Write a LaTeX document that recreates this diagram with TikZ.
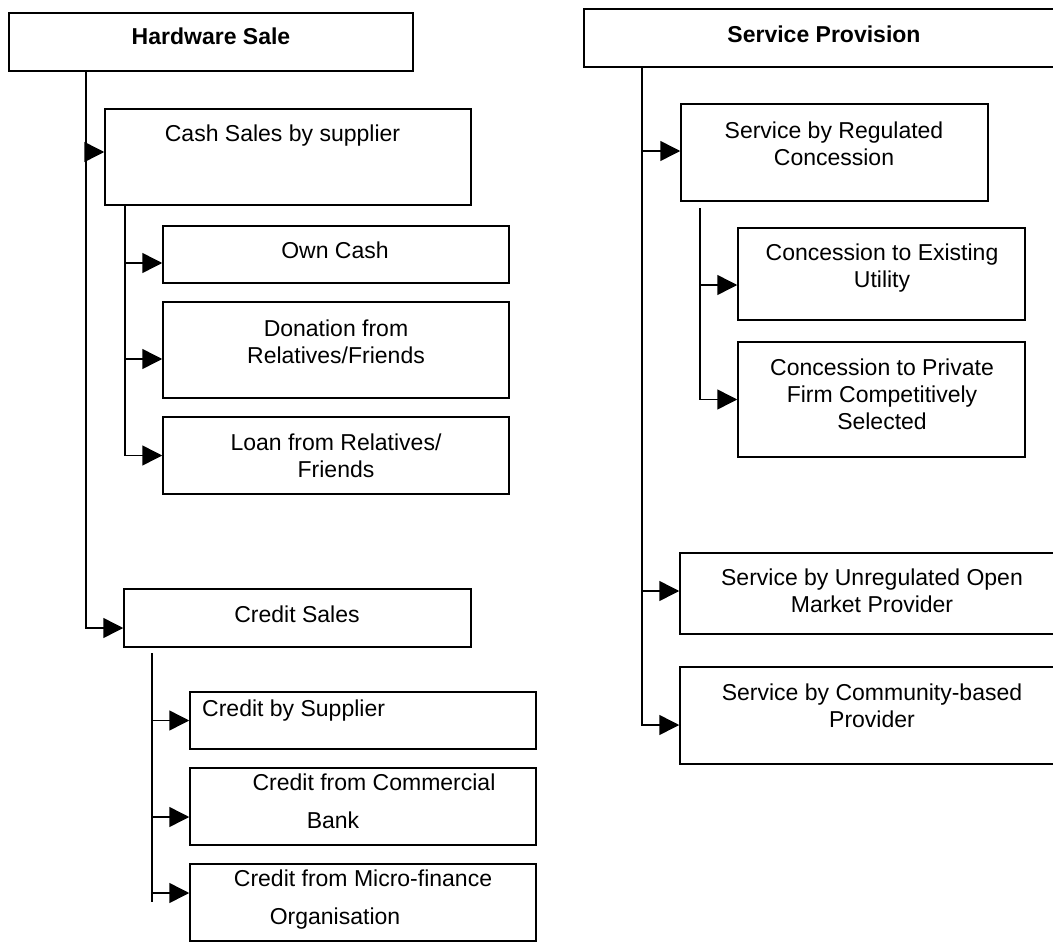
\documentclass[tikz,border=0pt]{standalone}
\usepackage{fontspec}
\setmainfont{Liberation Sans}
\usetikzlibrary{arrows.meta}
\begin{document}
\begin{tikzpicture}[x=1pt,y=-1pt,
  box/.style={draw,line width=1.5pt,inner sep=0pt,fill=none},
  txt/.style={inner sep=0pt,anchor=base,align=center,font=\fontsize{23}{27}\selectfont},
  conn/.style={line width=1.5pt},
  arr/.style={line width=1.5pt,-{Triangle[length=20pt,width=20pt]}}]
\useasboundingbox (0,0) rectangle (1053,942);
\clip (0,0) rectangle (1053,942);
% ---------- left tree boxes ----------
\node[box,minimum width=404pt,minimum height=58pt] (hw) at (211,42) {};
\node[box,minimum width=366pt,minimum height=96pt] (cash) at (288,157) {};
\node[box,minimum width=346pt,minimum height=57pt] (own) at (336,254.5) {};
\node[box,minimum width=346pt,minimum height=96pt] (don) at (336,350) {};
\node[box,minimum width=346pt,minimum height=77pt] (loan) at (336,455.5) {};
\node[box,minimum width=347pt,minimum height=58pt] (credit) at (297.5,618) {};
\node[box,minimum width=346pt,minimum height=57pt] (csup) at (363,720.5) {};
\node[box,minimum width=346pt,minimum height=77pt] (cbank) at (363,806.5) {};
\node[box,minimum width=346pt,minimum height=77pt] (cmicro) at (363,902.5) {};
% ---------- right tree boxes ----------
\node[box,minimum width=480pt,minimum height=58pt] (sp) at (824,38) {};
\node[box,minimum width=307pt,minimum height=97pt] (reg) at (834.5,152.5) {};
\node[box,minimum width=287pt,minimum height=92pt] (exist) at (881.5,274) {};
\node[box,minimum width=287pt,minimum height=115pt] (priv) at (881.5,399.5) {};
\node[box,minimum width=384pt,minimum height=81pt] (unreg) at (872,593.5) {};
\node[box,minimum width=384pt,minimum height=97pt] (comm) at (872,715.5) {};
% ---------- texts (base = baseline of last line) ----------
\node[txt,font=\fontsize{23}{27}\selectfont\bfseries] (hwT) at (211,45) {Hardware Sale};
\node[txt] (cashT) at (282.5,142) {Cash Sales by supplier};
\node[txt] (ownT) at (335,258) {Own Cash};
\node[txt] (donT) at (336,363) {Donation from\\Relatives/Friends};
\node[txt] (loanT) at (336,477) {Loan from Relatives/\\Friends};
\node[txt] (creditT) at (297,622) {Credit Sales};
\node[txt,anchor=base west] (csupT) at (202,716) {Credit by Supplier};
\node[txt] (cbankT1) at (374,790) {Credit from Commercial};
\node[txt] (cbankT2) at (333,828) {Bank};
\node[txt] (cmicroT1) at (363,886) {Credit from Micro-finance};
\node[txt] (cmicroT2) at (335,924) {Organisation};
\node[txt,font=\fontsize{23}{27}\selectfont\bfseries] (spT) at (824,43) {Service Provision};
\node[txt] (regT) at (834,165) {Service by Regulated\\Concession};
\node[txt] (existT) at (882,287) {Concession to Existing\\Utility};
\node[txt] (privT) at (882,429) {Concession to Private\\Firm Competitively\\Selected};
\node[txt] (unregT) at (872,612) {Service by Unregulated Open\\Market Provider};
\node[txt] (commT) at (872,727) {Service by Community-based\\Provider};
% ---------- trunk coordinates ----------
\coordinate (hwTop) at (86,71);
\coordinate (cashTop) at (125,205);
\coordinate (crTop) at (152,653);
\coordinate (crBot) at (152,902);
\coordinate (spTop) at (642,67);
\coordinate (regTop) at (700,208);
% ---------- left connectors ----------
\draw[arr] (hwTop) |- ([yshift=-10pt]credit.west);
\draw[arr] (hwTop |- cash.west) ++(0,-5) -- ([yshift=5pt]cash.west);
\draw[arr] (cashTop) |- (loan.west);
\draw[arr] (cashTop |- own.west) ++(0,8.5) -- ([yshift=-8.5pt]own.west);
\draw[arr] (cashTop |- don.west) ++(0,9) -- ([yshift=-9pt]don.west);
\draw[conn] (crTop) -- (crBot);
\draw[arr] (crTop |- csup.west) -- (csup.west);
\draw[arr] (crTop |- cbank.west) ++(0,10.5) -- ([yshift=-10.5pt]cbank.west);
\draw[arr] (crTop |- cmicro.west) ++(0,-9.5) -- ([yshift=9.5pt]cmicro.west);
% ---------- right connectors ----------
\draw[arr] (spTop) |- ([yshift=-9.5pt]comm.west);
\draw[arr] (spTop |- reg.west) ++(0,-1.5) -- ([yshift=1.5pt]reg.west);
\draw[arr] (spTop |- unreg.west) ++(0,-2.5) -- ([yshift=2.5pt]unreg.west);
\draw[arr] (regTop) |- (priv.west);
\draw[arr] (regTop |- exist.west) ++(0,11) -- ([yshift=-11pt]exist.west);
\end{tikzpicture}
\end{document}
